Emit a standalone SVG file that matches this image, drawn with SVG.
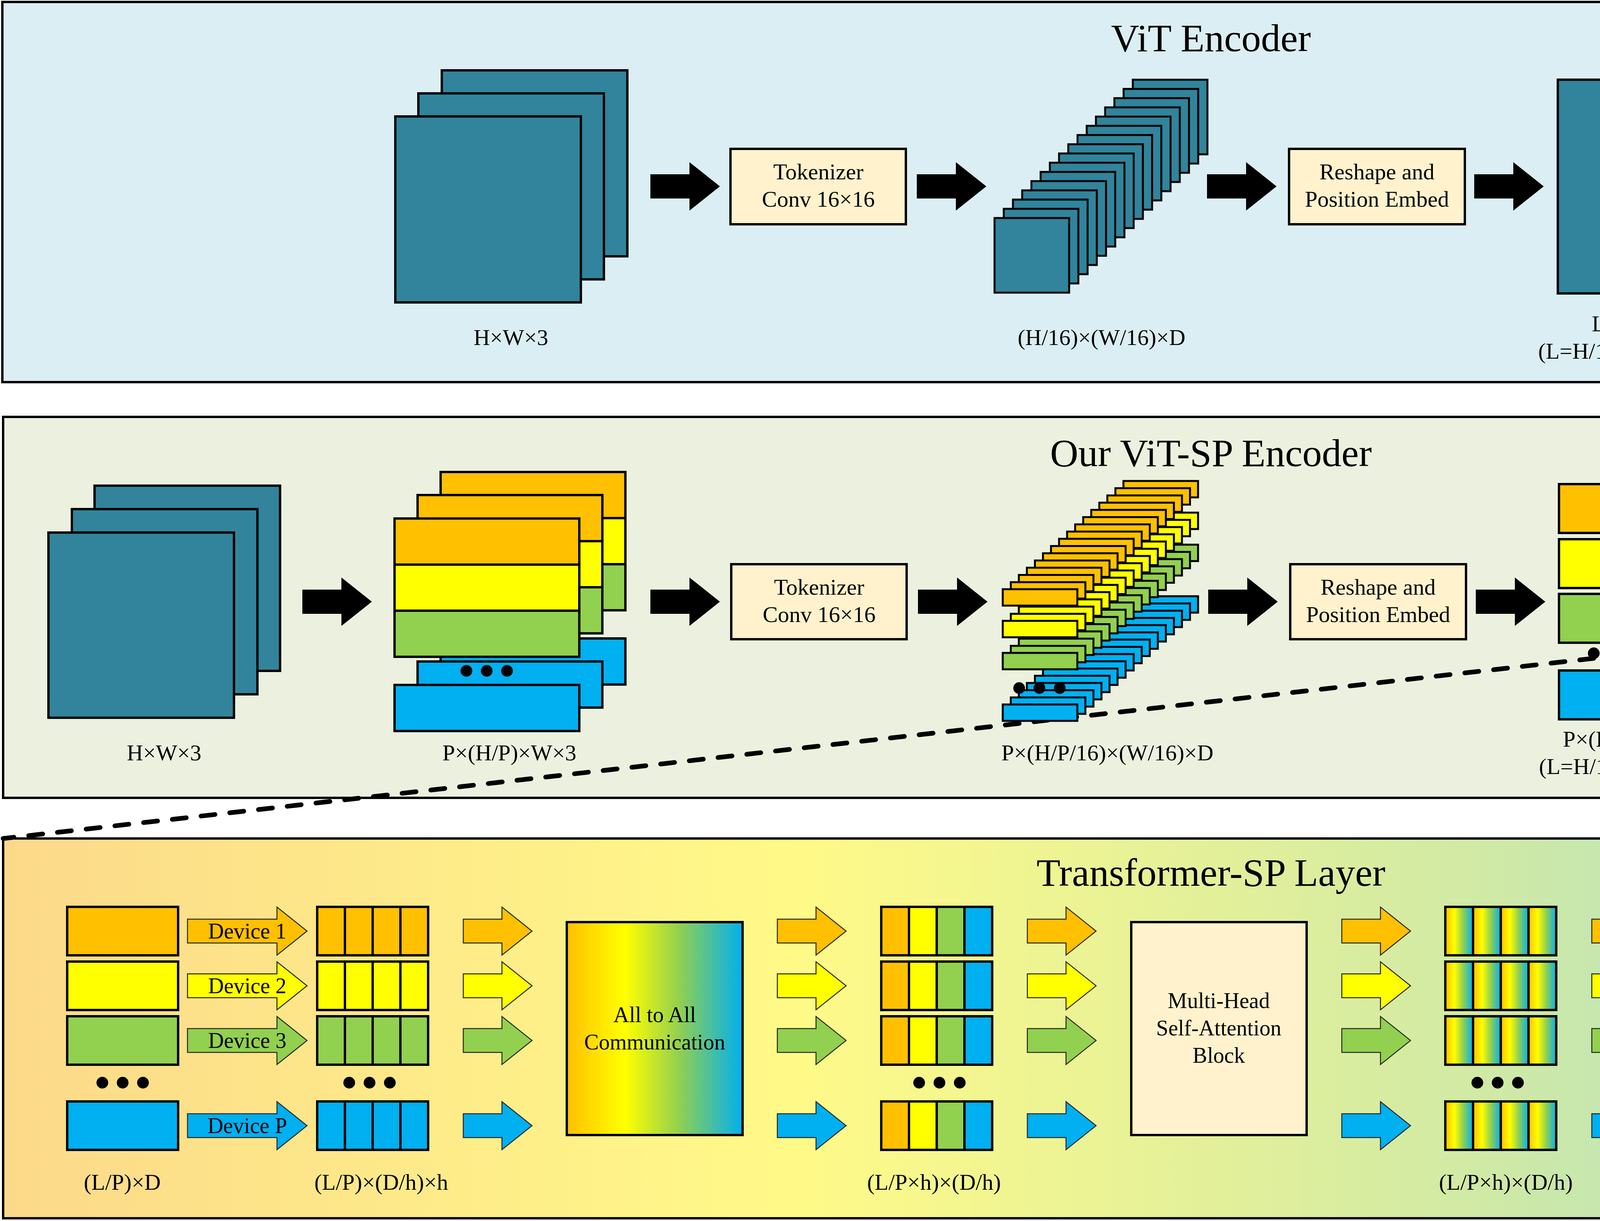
<svg xmlns="http://www.w3.org/2000/svg" width="6200" height="3125" viewBox="0 0 6200 3125">
<style>
.t{font-family:"Liberation Serif","Times New Roman",serif;fill:#000;text-anchor:middle}
.f58{font-size:58px}
.f56{font-size:56px}
.f100{font-size:100px}
.s{stroke:#000;stroke-width:6}
.s5{stroke:#000;stroke-width:5}
.teal{fill:#31849B}
.cream{fill:#FFF2CC}
.or{fill:#FFC000}.ye{fill:#FFFF00}.gr{fill:#92D050}.bl{fill:#00B0F0}
.ar{stroke:#262626;stroke-width:2.5}
.blk{fill:#000}
.dash{fill:none;stroke:#000;stroke-width:12;stroke-dasharray:36 38;stroke-linecap:round}
.ln{fill:none;stroke:#000;stroke-width:6}
</style>
<defs>
<linearGradient id="gH" x1="0" y1="0" x2="1" y2="0"><stop offset="0" stop-color="#FFC000"/><stop offset="0.33" stop-color="#FFFF00"/><stop offset="0.64" stop-color="#92D050"/><stop offset="1" stop-color="#00B0F0"/></linearGradient>
<linearGradient id="gV" x1="0" y1="0" x2="0" y2="1"><stop offset="0" stop-color="#FFC000"/><stop offset="0.3" stop-color="#FFFF00"/><stop offset="0.68" stop-color="#92D050"/><stop offset="1" stop-color="#00B0F0"/></linearGradient>
<linearGradient id="gVbox" x1="0" y1="0" x2="0" y2="1"><stop offset="0" stop-color="#FFC000"/><stop offset="0.1" stop-color="#FFC000"/><stop offset="0.36" stop-color="#FFFF00"/><stop offset="0.67" stop-color="#92D050"/><stop offset="1" stop-color="#00B0F0"/></linearGradient>
<linearGradient id="gBg" x1="0" y1="0" x2="1" y2="0"><stop offset="0" stop-color="#FCD98A"/><stop offset="0.33" stop-color="#FFFA88"/><stop offset="0.62" stop-color="#CFE9A6"/><stop offset="1" stop-color="#7CD8F8"/></linearGradient>
<path id="bigArr" d="M0,-31 H100 V-62 L178,0 L100,62 V31 H0 Z"/>
<path id="smArr" d="M0,-30.5 H99 V-61.5 L176,0 L99,61.5 V30.5 H0 Z"/>
<path id="devArr" d="M0,-30.5 H229 V-61.5 L306,0 L229,61.5 V30.5 H0 Z"/>
<g id="dots" class="blk"><circle cx="-52" cy="0" r="15"/><circle cx="0" cy="0" r="15"/><circle cx="52" cy="0" r="15"/></g>
<g id="tslice"><rect class="or s5" x="0" y="0" width="191" height="42"/><rect class="ye s5" x="0" y="81" width="191" height="42"/><rect class="gr s5" x="0" y="163" width="191" height="42"/><rect class="bl s5" x="0" y="295" width="191" height="42"/></g>
<g id="pstack"><rect class="or s" x="0" y="0" width="473" height="118"/><rect class="ye s" x="0" y="118" width="473" height="118"/><rect class="gr s" x="0" y="236" width="473" height="118"/><rect class="bl s" x="0" y="426" width="473" height="118"/></g>
<path id="div3" class="ln" d="M71,0V124M142,0V124M213,0V124"/>
<g id="mixRow"><rect class="or" x="0" y="0" width="71" height="124"/><rect class="ye" x="71" y="0" width="71" height="124"/><rect class="gr" x="142" y="0" width="71" height="124"/><rect class="bl" x="213" y="0" width="71" height="124"/><rect class="ln" x="0" y="0" width="284" height="124"/><use href="#div3"/></g>
<g id="ghRow"><rect fill="url(#gH)" x="0" y="0" width="71" height="124"/><rect fill="url(#gH)" x="71" y="0" width="71" height="124"/><rect fill="url(#gH)" x="142" y="0" width="71" height="124"/><rect fill="url(#gH)" x="213" y="0" width="71" height="124"/><rect class="ln" x="0" y="0" width="284" height="124"/><use href="#div3"/></g>
<g id="gvRow"><rect fill="url(#gV)" class="s" x="0" y="0" width="284" height="124"/><use href="#div3"/></g>
</defs>
<rect x="0" y="0" width="6200" height="3125" fill="#FFFFFF"/>

<g id="panel-vit"><rect x="6" y="5" width="6184" height="973" fill="#DBEEF3" class="s"/><text class="t f100" x="3100" y="131">ViT Encoder</text></g>
<g id="panel-vitsp"><rect x="8" y="1067" width="6185" height="975" fill="#EBF1DE" class="s"/><text class="t f100" x="3100" y="1193">Our ViT-SP Encoder</text></g>
<g id="panel-tsp"><rect x="8" y="2146" width="6184" height="972" fill="url(#gBg)" class="s"/><text class="t f100" x="3100" y="2267">Transformer-SP Layer</text></g>

<g id="connectors">
<g class="blk">
<use href="#bigArr" x="1665" y="477"/><use href="#bigArr" x="2347" y="477"/><use href="#bigArr" x="3090" y="477"/><use href="#bigArr" x="3774" y="477"/><use href="#bigArr" x="4306" y="477"/><use href="#bigArr" x="4992" y="477"/>
<use href="#bigArr" x="774" y="1540"/><use href="#bigArr" x="1665" y="1540"/><use href="#bigArr" x="2350" y="1540"/><use href="#bigArr" x="3093" y="1540"/><use href="#bigArr" x="3778" y="1540"/><use href="#bigArr" x="4309" y="1540"/><use href="#bigArr" x="4994" y="1540"/><use href="#bigArr" x="5555" y="1540"/>
</g>
<path class="dash" d="M4521,1635 L8,2146"/>
<path class="dash" d="M4970,1635 L6192,2146"/>
<g class="ar">
<use href="#devArr" class="or" x="480" y="2383"/><use href="#devArr" class="ye" x="480" y="2523"/><use href="#devArr" class="gr" x="480" y="2663"/><use href="#devArr" class="bl" x="480" y="2881"/>
<use href="#smArr" class="or" x="1186" y="2383"/><use href="#smArr" class="ye" x="1186" y="2523"/><use href="#smArr" class="gr" x="1186" y="2663"/><use href="#smArr" class="bl" x="1186" y="2881"/>
<use href="#smArr" class="or" x="1990" y="2383"/><use href="#smArr" class="ye" x="1990" y="2523"/><use href="#smArr" class="gr" x="1990" y="2663"/><use href="#smArr" class="bl" x="1990" y="2881"/>
<use href="#smArr" class="or" x="2630" y="2383"/><use href="#smArr" class="ye" x="2630" y="2523"/><use href="#smArr" class="gr" x="2630" y="2663"/><use href="#smArr" class="bl" x="2630" y="2881"/>
<use href="#smArr" class="or" x="3435" y="2383"/><use href="#smArr" class="ye" x="3435" y="2523"/><use href="#smArr" class="gr" x="3435" y="2663"/><use href="#smArr" class="bl" x="3435" y="2881"/>
<use href="#smArr" class="or" x="4075" y="2383"/><use href="#smArr" class="ye" x="4075" y="2523"/><use href="#smArr" class="gr" x="4075" y="2663"/><use href="#smArr" class="bl" x="4075" y="2881"/>
<use href="#smArr" class="or" x="4879" y="2383"/><use href="#smArr" class="ye" x="4879" y="2523"/><use href="#smArr" class="gr" x="4879" y="2663"/><use href="#smArr" class="bl" x="4879" y="2881"/>
<use href="#smArr" class="or" x="5519" y="2383"/><use href="#smArr" class="ye" x="5519" y="2523"/><use href="#smArr" class="gr" x="5519" y="2663"/><use href="#smArr" class="bl" x="5519" y="2881"/>
</g>
<g class="t f56">
<text x="633" y="2402">Device 1</text><text x="633" y="2542">Device 2</text><text x="633" y="2682">Device 3</text><text x="633" y="2900">Device P</text>
</g>
</g>

<!-- ViT Encoder -->
<g id="vit-input">
<rect class="teal s" x="1131" y="180" width="475" height="476"/>
<rect class="teal s" x="1071" y="239" width="475" height="476"/>
<rect class="teal s" x="1012" y="298" width="475" height="476"/>
<text class="t f58" x="1308" y="883">H×W×3</text>
</g>
<g id="vit-tokenizer"><rect class="cream s" x="1870" y="381" width="449" height="193"/><text class="t f58" x="2095" y="459">Tokenizer</text><text class="t f58" x="2095" y="529">Conv 16×16</text></g>
<g id="vit-tokens">
<rect class="teal s5" x="2900" y="204" width="191" height="191"/>
<rect class="teal s5" x="2876.4" y="227.6" width="191" height="191"/>
<rect class="teal s5" x="2852.8" y="251.2" width="191" height="191"/>
<rect class="teal s5" x="2829.2" y="274.8" width="191" height="191"/>
<rect class="teal s5" x="2805.6" y="298.4" width="191" height="191"/>
<rect class="teal s5" x="2782" y="322" width="191" height="191"/>
<rect class="teal s5" x="2758.4" y="345.6" width="191" height="191"/>
<rect class="teal s5" x="2734.8" y="369.2" width="191" height="191"/>
<rect class="teal s5" x="2711.2" y="392.8" width="191" height="191"/>
<rect class="teal s5" x="2687.6" y="416.4" width="191" height="191"/>
<rect class="teal s5" x="2664" y="440" width="191" height="191"/>
<rect class="teal s5" x="2640.4" y="463.6" width="191" height="191"/>
<rect class="teal s5" x="2616.8" y="487.2" width="191" height="191"/>
<rect class="teal s5" x="2593.2" y="510.8" width="191" height="191"/>
<rect class="teal s5" x="2569.6" y="534.4" width="191" height="191"/>
<rect class="teal s5" x="2546" y="558" width="191" height="191"/>
<text class="t f58" x="2820" y="883">(H/16)×(W/16)×D</text>
</g>
<g id="vit-reshape"><rect class="cream s" x="3300" y="381" width="450" height="193"/><text class="t f58" x="3525" y="459">Reshape and</text><text class="t f58" x="3525" y="529">Position Embed</text></g>
<g id="vit-embed"><rect class="teal s" x="3988" y="204" width="284" height="547"/><text class="t f58" x="4130" y="848">L×D</text><text class="t f58" x="4130" y="918">(L=H/16×W/16)</text></g>
<g id="vit-transformer"><rect class="cream s" x="4516" y="381" width="449" height="193"/><text class="t f58" x="4740" y="459">Transformer</text><text class="t f58" x="4740" y="529">Layer</text><text class="t f58" x="4740" y="638">×N</text></g>
<g id="vit-output"><rect class="teal s" x="5209" y="204" width="284" height="547"/><text class="t f58" x="5351" y="883">L×D</text></g>

<!-- ViT-SP Encoder -->
<g id="sp-input">
<rect class="teal s" x="242" y="1243" width="475" height="474"/>
<rect class="teal s" x="184" y="1303" width="475" height="474"/>
<rect class="teal s" x="124" y="1363" width="475" height="474"/>
<text class="t f58" x="420" y="1946">H×W×3</text>
</g>
<g id="sp-split">
<use href="#pstack" x="1128" y="1208"/>
<use href="#pstack" x="1069" y="1267"/>
<use href="#pstack" x="1010" y="1327"/>
<use href="#dots" x="1246" y="1717"/>
<text class="t f58" x="1304" y="1946">P×(H/P)×W×3</text>
</g>
<g id="sp-tokenizer"><rect class="cream s" x="1872" y="1444" width="449" height="192"/><text class="t f58" x="2097" y="1522">Tokenizer</text><text class="t f58" x="2097" y="1592">Conv 16×16</text></g>
<g id="sp-tokens">
<use href="#tslice" x="2876" y="1231"/>
<use href="#tslice" x="2855.4" y="1249.5"/>
<use href="#tslice" x="2834.8" y="1268"/>
<use href="#tslice" x="2814.2" y="1286.5"/>
<use href="#tslice" x="2793.6" y="1305"/>
<use href="#tslice" x="2773" y="1323.5"/>
<use href="#tslice" x="2752.4" y="1342"/>
<use href="#tslice" x="2731.8" y="1360.5"/>
<use href="#tslice" x="2711.2" y="1379"/>
<use href="#tslice" x="2690.6" y="1397.5"/>
<use href="#tslice" x="2670" y="1416"/>
<use href="#tslice" x="2649.4" y="1434.5"/>
<use href="#tslice" x="2628.8" y="1453"/>
<use href="#tslice" x="2608.2" y="1471.5"/>
<use href="#tslice" x="2587.6" y="1490"/>
<use href="#tslice" x="2567" y="1508"/>
<use href="#dots" x="2661" y="1761"/>
<text class="t f58" x="2835" y="1946">P×(H/P/16)×(W/16)×D</text>
</g>
<g id="sp-reshape"><rect class="cream s" x="3303" y="1444" width="450" height="192"/><text class="t f58" x="3528" y="1522">Reshape and</text><text class="t f58" x="3528" y="1592">Position Embed</text></g>
<g id="sp-embed">
<rect class="or s" x="3991" y="1239" width="283" height="125"/>
<rect class="ye s" x="3991" y="1380" width="283" height="125"/>
<rect class="gr s" x="3991" y="1520" width="283" height="125"/>
<rect class="bl s" x="3991" y="1716" width="283" height="125"/>
<use href="#dots" x="4132" y="1672"/>
<text class="t f58" x="4132" y="1911">P×(L/P)×D</text><text class="t f58" x="4132" y="1981">(L=H/16×W/16)</text>
</g>
<g id="sp-transformer"><rect fill="url(#gH)" class="s" x="4521" y="1444" width="449" height="192"/><text class="t f58" x="4745" y="1522">Transformer-SP</text><text class="t f58" x="4745" y="1592">Layer</text><text class="t f58" x="4745" y="1700">×N</text></g>
<g id="sp-output">
<rect fill="url(#gV)" class="s" x="5224" y="1239" width="284" height="125"/>
<rect fill="url(#gV)" class="s" x="5224" y="1380" width="284" height="125"/>
<rect fill="url(#gV)" class="s" x="5224" y="1520" width="284" height="125"/>
<rect fill="url(#gV)" class="s" x="5224" y="1716" width="284" height="125"/>
<use href="#dots" x="5366" y="1672"/>
<text class="t f58" x="5366" y="1946">P×(L/P)×D</text>
</g>
<g id="sp-merged"><rect class="teal s" x="5785" y="1267" width="285" height="545"/><text class="t f58" x="5927" y="1946">L×D</text></g>

<!-- Transformer-SP Layer -->
<g id="tsp-input">
<rect class="or s" x="172" y="2321" width="284" height="124"/>
<rect class="ye s" x="172" y="2461" width="284" height="124"/>
<rect class="gr s" x="172" y="2601" width="284" height="124"/>
<rect class="bl s" x="172" y="2819" width="284" height="124"/>
<use href="#dots" x="314" y="2771"/>
<text class="t f58" x="313" y="3045">(L/P)×D</text>
</g>
<g id="tsp-heads">
<rect class="or s" x="812" y="2321" width="284" height="124"/><use href="#div3" x="812" y="2321"/>
<rect class="ye s" x="812" y="2461" width="284" height="124"/><use href="#div3" x="812" y="2461"/>
<rect class="gr s" x="812" y="2601" width="284" height="124"/><use href="#div3" x="812" y="2601"/>
<rect class="bl s" x="812" y="2819" width="284" height="124"/><use href="#div3" x="812" y="2819"/>
<use href="#dots" x="946" y="2771"/>
<text class="t f58" x="976" y="3045">(L/P)×(D/h)×h</text>
</g>
<g id="tsp-a2a-1"><rect fill="url(#gH)" class="s" x="1451" y="2360" width="450" height="545"/><text class="t f56" x="1676" y="2616">All to All</text><text class="t f56" x="1676" y="2686">Communication</text></g>
<g id="tsp-mixed">
<use href="#mixRow" x="2256" y="2321"/><use href="#mixRow" x="2256" y="2461"/><use href="#mixRow" x="2256" y="2601"/><use href="#mixRow" x="2256" y="2819"/>
<use href="#dots" x="2405" y="2771"/>
<text class="t f58" x="2391" y="3045">(L/P×h)×(D/h)</text>
</g>
<g id="tsp-mhsa"><rect class="cream s" x="2896" y="2360" width="449" height="545"/><text class="t f56" x="3120" y="2580">Multi-Head</text><text class="t f56" x="3120" y="2650">Self-Attention</text><text class="t f56" x="3120" y="2720">Block</text></g>
<g id="tsp-attn-out">
<use href="#ghRow" x="3700" y="2321"/><use href="#ghRow" x="3700" y="2461"/><use href="#ghRow" x="3700" y="2601"/><use href="#ghRow" x="3700" y="2819"/>
<use href="#dots" x="3834" y="2771"/>
<text class="t f58" x="3855" y="3045">(L/P×h)×(D/h)</text>
</g>
<g id="tsp-a2a-2"><rect fill="url(#gVbox)" class="s" x="4340" y="2360" width="451" height="545"/><text class="t f56" x="4565" y="2616">All to All</text><text class="t f56" x="4565" y="2686">Communication</text></g>
<g id="tsp-heads-out">
<use href="#gvRow" x="5145" y="2321"/><use href="#gvRow" x="5145" y="2461"/><use href="#gvRow" x="5145" y="2601"/><use href="#gvRow" x="5145" y="2819"/>
<use href="#dots" x="5294" y="2771"/>
<text class="t f58" x="5306" y="3045">(L/P)×(D/h)×h</text>
</g>
<g id="tsp-output">
<rect fill="url(#gV)" class="s" x="5785" y="2321" width="284" height="124"/>
<rect fill="url(#gV)" class="s" x="5785" y="2461" width="284" height="124"/>
<rect fill="url(#gV)" class="s" x="5785" y="2601" width="284" height="124"/>
<rect fill="url(#gV)" class="s" x="5785" y="2819" width="284" height="124"/>
<use href="#dots" x="5927" y="2771"/>
<text class="t f58" x="5935" y="3045">(L/P)×D</text>
</g>
</svg>
